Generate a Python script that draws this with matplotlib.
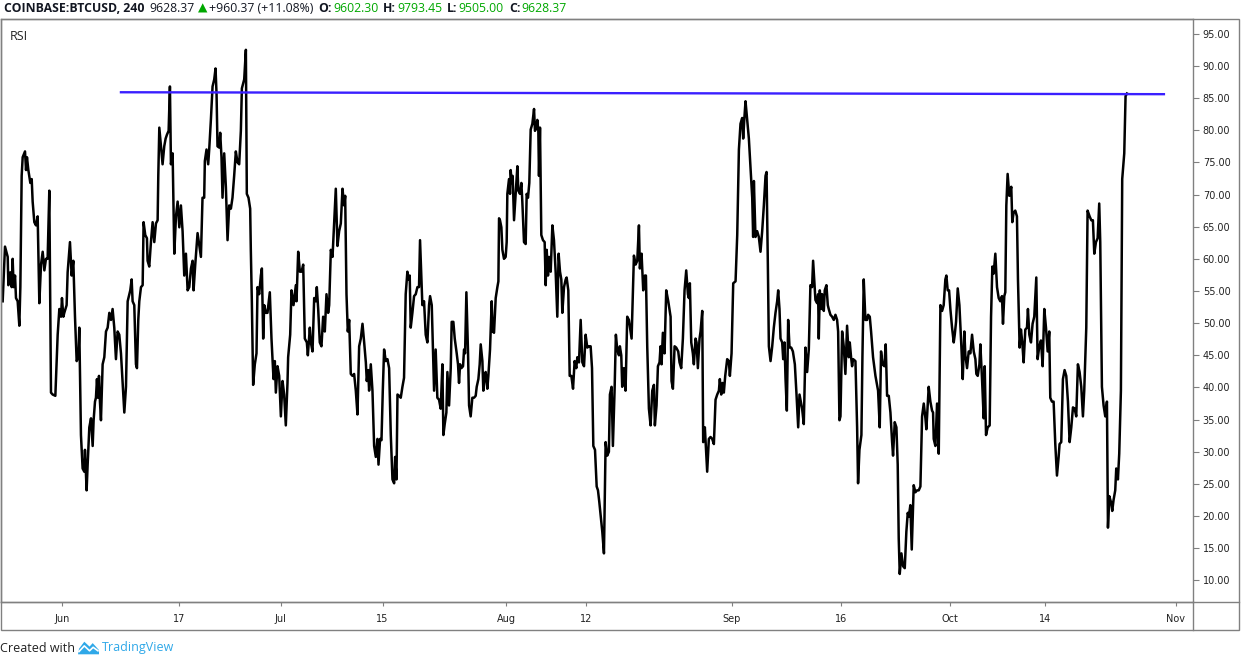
import numpy as np
import matplotlib
matplotlib.use('Agg')
import matplotlib.pyplot as plt
from matplotlib.patches import Rectangle, Polygon
from matplotlib.lines import Line2D

# RSI (4h) readings, x = days since 1 Jun 2019
day = [
    # late May - mid June
    -8.22, -7.90, -7.53, -7.44, -7.17, -6.98, -6.85, -6.71, -6.52, -6.39,
    -6.16, -5.93, -5.79, -5.61, -5.47, -5.15, -5.01, -4.88, -4.69, -4.42,
    -4.23, -4.10, -3.87, -3.64, -3.41, -3.18, -2.95, -2.72, -2.49, -2.27,
    -2.04, -1.81, -1.58, -1.35, -0.98, -0.66, -0.43, -0.20, -0.07, 0.12,
    0.25, 0.57, 0.71, 1.03, 1.26, 1.49, 1.72, 1.95, 2.19, 2.31,
    2.54, 2.77, 3.00, 3.09, 3.32, 3.46, 3.69, 3.92, 4.15, 4.28,
    4.47, 4.60, 4.74, 4.88, 5.02, 5.15, 5.29, 5.52, 5.75, 5.98,
    6.21, 6.44, 6.67, 6.89, 7.12, 7.35, 7.58, 7.81, 8.04, 8.27,
    8.50, 8.73, 8.96, 9.32, 9.51, 9.64, 9.87, 10.10, 10.24, 10.42,
    10.56, 10.79, 11.02, 11.15, 11.38, 11.61, 11.70, 11.93, 12.16, 12.39,
    12.62, 12.85, 13.08, 13.17, 13.31, 13.54, 13.76, 13.99, 14.18, 14.36,
    14.59, 14.77, 14.91, 15.14, 15.37, 15.60, 15.83, 16.06, 16.28, 16.51,
    16.74, 16.97, 17.20, 17.43, 17.66, 17.89, 18.02, 18.25, 18.57, 19.03,
    # late June - mid July
    19.25, 19.48, 19.57, 19.80, 20.03, 20.17, 20.40, 20.63, 20.86, 21.04,
    21.18, 21.31, 21.54, 21.68, 21.86, 22.00, 22.23, 22.46, 22.60, 22.69,
    22.92, 23.15, 23.37, 23.60, 23.83, 24.06, 24.29, 24.52, 24.66, 24.98,
    25.21, 25.34, 25.57, 25.80, 25.89, 26.03, 26.21, 26.44, 26.67, 26.81,
    27.04, 27.27, 27.41, 27.59, 27.73, 27.96, 28.18, 28.50, 28.73, 29.01,
    29.19, 29.33, 29.56, 29.79, 30.02, 30.25, 30.47, 30.70, 30.93, 31.02,
    31.30, 31.48, 31.76, 32.08, 32.17, 32.40, 32.63, 32.86, 33.09, 33.31,
    33.59, 33.73, 34.00, 34.14, 34.37, 34.60, 34.83, 34.96, 35.15, 35.37,
    35.60, 35.83, 36.06, 36.29, 36.52, 36.66, 36.89, 37.12, 37.34, 37.57,
    37.80, 38.03, 38.26, 38.49, 38.72, 38.86, 39.04, 39.22, 39.41, 39.63,
    39.86, 40.09, 40.32, 40.55, 40.78, 41.01, 41.24, 41.47, 41.70, 41.83,
    42.02, 42.15, 42.38, 42.61, 42.84, 43.07, 43.30, 43.44, 43.66, 43.85,
    44.03, 44.21, 44.44, 44.67, 44.90, 45.13, 45.36, 45.59, 45.73, 45.91,
    46.05, 46.28,
    # mid July - mid August
    46.50, 46.73, 46.95, 47.18, 47.41, 47.55, 47.73, 47.87, 48.10, 48.33,
    48.56, 48.79, 49.01, 49.15, 49.34, 49.47, 49.70, 49.93, 50.16, 50.39,
    50.53, 50.76, 51.08, 51.30, 51.53, 51.76, 51.99, 52.22, 52.36, 52.54,
    52.77, 52.91, 53.14, 53.37, 53.50, 53.73, 53.92, 54.19, 54.37, 54.51,
    54.65, 54.83, 55.06, 55.20, 55.34, 55.52, 55.75, 55.89, 56.11, 56.34,
    56.57, 56.80, 56.94, 57.17, 57.35, 57.49, 57.72, 57.85, 58.04, 58.17,
    58.40, 58.54, 58.77, 59.00, 59.14, 59.32, 59.55, 59.78, 59.92, 60.01,
    60.14, 60.33, 60.47, 60.69, 60.92, 61.06, 61.15, 61.38, 61.52, 61.61,
    61.75, 61.88, 62.07, 62.30, 62.53, 62.66, 62.89, 63.08, 63.21, 63.44,
    63.67, 63.81, 63.99, 64.17, 64.36, 64.59, 64.82, 64.95, 65.14, 65.27,
    65.41, 65.50, 65.64, 65.82, 66.05, 66.28, 66.42, 66.56, 66.74, 66.88,
    67.11, 67.34, 67.56, 67.79, 68.02, 68.20, 68.39, 68.57, 68.71, 68.94,
    69.17, 69.30, 69.53, 69.72, 69.95, 70.18, 70.40, 70.63, 70.77, 71.00,
    71.23, 71.46, 71.69, 71.91, 72.14, 72.37, 72.60, 72.79, 72.97, 73.20,
    73.43, 73.61, 73.79,
    # mid August - early September
    74.20, 74.43, 74.66, 74.88, 75.11, 75.25, 75.48, 75.66, 75.89, 76.07,
    76.26, 76.49, 76.62, 76.81, 76.94, 77.17, 77.40, 77.63, 77.86, 78.23,
    78.55, 78.78, 79.01, 79.24, 79.37, 79.60, 79.83, 80.06, 80.20, 80.38,
    80.61, 80.84, 81.07, 81.30, 81.43, 81.66, 81.85, 82.07, 82.21, 82.35,
    82.53, 82.76, 82.99, 83.27, 83.59, 83.72, 83.91, 84.14, 84.36, 84.64,
    84.82, 85.05, 85.28, 85.51, 85.74, 85.97, 86.10, 86.24, 86.43, 86.65,
    86.79, 87.02, 87.16, 87.34, 87.57, 87.71, 87.94, 88.07, 88.30, 88.62,
    88.85, 89.08, 89.31, 89.54, 89.77, 90.00, 90.23, 90.36, 90.55, 90.73,
    90.91, 91.10, 91.37, 91.60, 91.74, 91.97, 92.20, 92.52, 92.75, 92.98,
    93.20, 93.43, 93.57, 93.75, 93.89, 94.12, 94.35, 94.58, 94.81, 94.94,
    95.04, 95.26, 95.49, 95.72, 95.95, 96.18, 96.41, 96.64, 96.78, 96.96,
    97.10, 97.33, 97.56, 97.78, 98.01, 98.24, 98.38, 98.56, 98.70, 98.93,
    99.07, 99.25, 99.39, 99.57, 99.75, 99.94, 100.17, 100.40, 100.67, 100.90,
    101.13, 101.31,
    # September - early October
    101.67, 101.90, 102.13, 102.36, 102.59, 102.81, 103.04, 103.18, 103.36, 103.50,
    103.73, 103.87, 103.96, 104.10, 104.28, 104.42, 104.65, 104.78, 105.01, 105.20,
    105.33, 105.56, 105.79, 106.02, 106.25, 106.48, 106.62, 106.80, 106.94, 107.17,
    107.39, 107.62, 107.85, 108.08, 108.22, 108.40, 108.54, 108.68, 109.00, 109.23,
    109.36, 109.55, 109.82, 109.96, 110.14, 110.37, 110.60, 110.74, 110.97, 111.15,
    111.42, 111.75, 112.11, 112.34, 112.52, 112.71, 112.98, 113.16, 113.35, 113.58,
    113.81, 114.04, 114.17, 114.40, 114.63, 114.81, 114.95, 115.09, 115.32, 115.55,
    115.78, 116.00, 116.19, 116.33, 116.55, 116.74, 116.87, 117.01, 117.24, 117.47,
    117.70, 117.93, 118.16, 118.39, 118.62, 118.75, 119.07, 119.30, 119.53, 119.67,
    119.76, 119.99, 120.22, 120.45, 120.68, 120.91, 121.13, 121.36, 121.50, 121.68,
    121.87, 122.05, 122.28, 122.51, 122.65, 122.83, 123.06, 123.29, 123.56, 123.75,
    123.97, 124.11, 124.34, 124.57, 124.80, 125.03, 125.26, 125.49, 125.62, 125.81,
    126.04, 126.17, 126.40, 126.63, 126.77, 126.95, 127.18, 127.45, 127.64, 127.82,
    128.00, 128.23, 128.46, 128.69,
    # October
    128.91, 129.14, 129.28, 129.46, 129.60, 129.74, 129.92, 130.15, 130.29, 130.42,
    130.56, 130.74, 130.97, 131.20, 131.34, 131.57, 131.75, 131.93, 132.12, 132.35,
    132.58, 132.71, 132.90, 133.13, 133.35, 133.58, 133.86, 134.04, 134.27, 134.50,
    134.73, 134.96, 135.19, 135.42, 135.64, 135.78, 136.01, 136.24, 136.47, 136.70,
    136.93, 137.06, 137.29, 137.52, 137.75, 137.98, 138.21, 138.44, 138.67, 138.90,
    139.13, 139.35, 139.58, 139.81, 140.04, 140.27, 140.45, 140.73, 140.91, 141.19,
    141.42, 141.64, 141.83, 142.06, 142.29, 142.51, 142.65, 142.88, 143.11, 143.34,
    143.57, 143.71, 143.89, 144.12, 144.30, 144.48, 144.71, 144.85, 145.08, 145.26,
    145.49, 145.67, 145.95, 146.13, 146.32,
]

rsi = [
    53.4, 61.9, 60.3, 55.9, 57.9, 55.6, 60.0, 55.6, 57.4, 53.9,
    53.4, 49.6, 55.6, 72.9, 75.8, 76.7, 73.8, 75.8, 73.8, 71.8,
    72.4, 68.9, 65.7, 65.2, 66.6, 53.1, 59.1, 61.1, 58.2, 60.0,
    60.0, 70.6, 39.2, 38.9, 38.7, 48.2, 52.2, 51.0, 53.9, 51.0,
    51.6, 52.8, 57.9, 62.6, 57.4, 59.7, 51.0, 44.1, 44.7, 49.3,
    32.6, 27.4, 26.9, 30.3, 24.0, 28.0, 33.8, 35.2, 30.9, 34.9,
    37.8, 38.4, 41.3, 38.4, 41.8, 37.8, 34.9, 43.6, 44.7, 48.7,
    49.3, 51.6, 50.5, 52.2, 49.3, 44.4, 48.7, 48.2, 45.3, 40.7,
    36.1, 40.1, 53.4, 55.1, 56.8, 53.4, 52.8, 43.6, 43.0, 50.5,
    53.4, 55.6, 55.9, 65.7, 63.7, 63.2, 59.7, 58.8, 62.6, 65.7,
    62.6, 65.5, 66.0, 72.9, 80.4, 77.5, 74.7, 77.5, 78.7, 79.3,
    79.9, 86.8, 74.7, 76.4, 60.8, 66.6, 68.9, 64.9, 68.3, 64.3,
    57.4, 60.8, 55.1, 55.6, 58.5, 59.7, 55.1, 59.1, 64.0, 60.3,

    69.5, 69.5, 75.2, 77.0, 74.7, 77.0, 81.6, 86.8, 87.9, 89.6,
    85.6, 77.5, 77.3, 79.6, 75.8, 69.5, 76.4, 71.2, 66.0, 62.9,
    68.3, 67.8, 69.5, 72.9, 76.7, 75.0, 74.7, 79.9, 86.5, 87.9,
    92.5, 70.1, 69.5, 67.8, 61.4, 53.4, 40.4, 43.6, 45.3, 55.6,
    54.5, 57.4, 58.5, 47.6, 52.8, 51.6, 51.6, 54.8, 47.6, 41.3,
    44.1, 39.2, 43.3, 41.8, 35.5, 41.0, 38.9, 34.1, 40.7, 44.7,
    48.2, 55.1, 52.8, 55.9, 53.4, 61.1, 58.0, 58.0, 59.1, 47.6,
    47.0, 45.0, 49.3, 47.0, 45.6, 53.9, 53.4, 55.6, 52.2, 47.0,
    46.4, 51.0, 48.7, 54.5, 51.6, 52.8, 61.4, 60.3, 65.5, 70.9,
    62.0, 64.3, 65.5, 70.9, 68.3, 69.8, 54.5, 48.7, 50.5, 42.1,
    41.8, 42.1, 39.5, 35.8, 46.4, 47.6, 49.9, 47.0, 43.9, 41.0,
    42.7, 39.5, 43.6, 39.5, 30.9, 29.2, 32.0, 28.0, 32.0, 31.8,
    39.5, 45.9, 44.1, 44.4, 43.0, 32.6, 25.7, 25.1, 29.2, 25.7,
    38.9, 38.7,

    38.4, 40.1, 41.5, 54.5, 58.0, 56.8, 57.4, 49.3, 51.6, 54.2,
    54.5, 55.6, 55.6, 62.9, 56.8, 52.8, 53.4, 48.2, 47.0, 52.8,
    54.2, 52.8, 39.5, 45.9, 38.4, 38.1, 36.7, 43.6, 32.6, 34.3,
    36.1, 42.4, 37.2, 43.0, 50.2, 50.2, 47.6, 45.3, 43.6, 40.7,
    43.6, 43.0, 43.3, 45.9, 45.3, 54.8, 45.3, 37.2, 35.5, 38.4,
    38.4, 38.7, 40.1, 41.3, 43.6, 46.7, 44.1, 39.5, 41.8, 42.4,
    39.8, 41.8, 45.9, 53.4, 48.7, 48.5, 53.9, 55.6, 56.5, 66.3,
    66.0, 64.9, 61.4, 60.0, 60.3, 62.6, 70.1, 72.4, 70.1, 73.8,
    71.8, 72.9, 66.0, 70.1, 74.4, 70.6, 70.1, 71.8, 68.9, 62.6,
    62.3, 70.1, 69.5, 71.8, 80.1, 81.0, 83.3, 79.9, 80.4, 81.6,
    79.9, 72.9, 80.4, 63.7, 62.9, 62.6, 55.9, 61.4, 57.4, 60.3,
    58.0, 65.2, 62.9, 58.0, 51.0, 60.8, 58.0, 56.8, 51.6, 55.6,
    56.8, 57.1, 55.1, 41.8, 41.8, 39.8, 44.1, 43.0, 44.7, 43.9,
    50.5, 43.9, 43.3, 48.2, 46.2, 46.4, 46.4, 43.0, 30.9, 30.3,
    24.6, 24.0, 22.2,

    17.6, 14.2, 31.5, 29.4, 30.0, 38.9, 40.1, 30.9, 39.5, 48.2,
    45.9, 45.0, 46.4, 45.0, 40.1, 43.0, 39.5, 51.0, 50.5, 47.6,
    60.5, 59.1, 59.7, 65.2, 58.5, 60.8, 55.1, 57.4, 57.4, 46.4,
    36.7, 34.1, 39.5, 40.4, 34.1, 37.2, 43.3, 43.9, 46.4, 43.6,
    48.5, 45.3, 55.1, 53.4, 51.0, 41.0, 39.8, 46.4, 46.2, 45.6,
    43.9, 43.0, 47.6, 55.1, 58.2, 54.5, 53.9, 56.2, 47.0, 45.3,
    43.6, 47.6, 47.0, 43.0, 47.6, 48.7, 51.9, 31.5, 33.8, 26.9,
    32.0, 32.3, 32.0, 31.2, 38.1, 38.9, 39.5, 41.3, 38.9, 40.7,
    39.2, 41.8, 44.4, 44.1, 41.8, 45.3, 56.2, 56.5, 63.7, 77.0,
    81.0, 81.9, 78.7, 82.2, 84.5, 81.6, 78.7, 74.1, 69.5, 63.4,
    72.1, 63.4, 64.3, 63.4, 61.1, 64.3, 68.3, 72.9, 73.5, 59.1,
    46.4, 44.1, 46.4, 49.3, 51.6, 53.4, 55.1, 52.2, 47.6, 47.0,
    44.4, 47.0, 41.3, 36.4, 50.5, 46.2, 46.2, 45.6, 43.6, 38.9,
    33.8, 38.9,

    36.7, 34.3, 46.2, 42.4, 45.9, 55.9, 55.6, 59.7, 56.2, 53.6,
    53.1, 54.5, 47.6, 55.1, 52.2, 54.5, 51.9, 55.1, 55.9, 52.8,
    52.2, 51.3, 51.0, 50.5, 51.3, 50.5, 48.7, 34.9, 35.5, 48.7,
    46.4, 42.1, 49.6, 44.7, 47.0, 44.7, 43.3, 44.4, 44.1, 33.8,
    25.1, 30.3, 32.6, 44.7, 56.8, 50.5, 50.5, 51.3, 51.0, 48.7,
    44.7, 41.8, 39.5, 33.8, 45.6, 43.6, 43.3, 46.7, 38.7, 38.7,
    36.1, 31.5, 29.4, 34.6, 33.8, 28.0, 16.5, 11.0, 14.2, 12.2,
    11.9, 17.6, 20.5, 19.9, 21.7, 14.8, 19.7, 24.8, 23.7, 24.0,
    24.0, 24.6, 35.5, 37.5, 35.2, 33.5, 40.1, 37.8, 36.4, 36.1,
    32.0, 30.9, 37.5, 29.7, 52.8, 51.9, 52.8, 56.8, 57.4, 55.1,
    55.1, 52.2, 49.3, 47.0, 48.2, 50.2, 55.4, 52.8, 46.4, 41.3,
    48.7, 45.0, 43.0, 45.6, 45.3, 48.2, 45.6, 44.4, 42.1, 41.8,
    43.6, 46.7, 41.3, 35.2, 43.3, 32.6, 33.8, 34.1, 51.0, 58.8,
    57.7, 60.8, 55.6, 53.9,

    53.4, 54.2, 49.9, 54.2, 54.8, 68.3, 73.2, 69.8, 70.6, 71.2,
    65.7, 67.2, 67.5, 66.6, 56.8, 46.2, 49.0, 47.0, 43.9, 49.0,
    49.3, 52.2, 48.2, 47.0, 49.9, 51.0, 57.1, 44.4, 46.4, 47.3,
    43.3, 52.2, 49.3, 45.6, 48.7, 38.4, 37.8, 37.8, 31.2, 26.3,
    29.2, 31.2, 31.5, 41.3, 42.7, 41.8, 37.8, 31.5, 33.8, 36.9,
    36.7, 35.5, 43.6, 42.4, 40.1, 35.5, 39.5, 49.3, 67.5, 66.6,
    66.0, 66.0, 60.8, 62.6, 63.2, 68.6, 62.6, 40.1, 37.2, 35.5,
    37.8, 18.2, 23.1, 22.2, 20.8, 22.5, 24.0, 27.4, 25.7, 29.7,
    39.5, 72.4, 76.4, 85.3, 85.7,
]

# resistance line drawn on the chart
trend_day = [8.04, 151.4]
trend_rsi = [85.9, 85.6]

tick_day = [0, 16, 30, 44, 61, 72, 92, 107, 122, 135, 153]
tick_lbl = ['Jun', '17', 'Jul', '15', 'Aug', '12', 'Sep', '16', 'Oct', '14', 'Nov']
rsi_ticks = [10, 15, 20, 25, 30, 35, 40, 45, 50, 55, 60, 65, 70, 75, 80, 85, 90, 95]

header = [
    ('COINBASE:BTCUSD, 240', '#131722', 'bold', 5),
    ('9628.37', '#131722', 'normal', 3),
    ('\u25b2', '#00a800', 'normal', 2),
    ('+960.37 (+11.08%)', '#131722', 'normal', 5),
    ('O:', '#131722', 'bold', 1),
    ('9602.30', '#00a800', 'normal', 5),
    ('H:', '#131722', 'bold', 1),
    ('9793.45', '#00a800', 'normal', 5),
    ('L:', '#131722', 'bold', 1),
    ('9505.00', '#00a800', 'normal', 5),
    ('C:', '#131722', 'bold', 1),
    ('9628.37', '#00a800', 'normal', 0),
]

W, H = 1245, 665
GRAY = '#808080'
TXT = '#222222'
FAM = ['Open Sans', 'DejaVu Sans']

fig = plt.figure(figsize=(W / 100, H / 100), dpi=100)
fig.patch.set_facecolor('white')

def fx(px):
    return px / W

def fy(py):
    return 1 - py / H

ax = fig.add_axes([fx(1), fy(602), (1193 - 1) / W, (602 - 19) / H])
ax.plot(day, rsi, color='black', lw=1.8)
ax.plot(trend_day, trend_rsi, color='#3a1fff', lw=1.7)

ax.set_xlim(-8.45, 155.4)
ax.set_ylim(6.64, 97.29)

ax.set_xticks(tick_day)
ax.set_xticklabels(tick_lbl)
ax.set_yticks(rsi_ticks)
ax.set_yticklabels(['%.2f' % v for v in rsi_ticks])

ax.yaxis.tick_right()
ax.tick_params(axis='y', direction='out', length=4, width=0.8, color=GRAY,
               labelcolor=TXT, labelsize=7, pad=3)
ax.tick_params(axis='x', direction='out', length=3, width=0.8, color=GRAY,
               labelcolor=TXT, labelsize=7, pad=6)
for s in ax.spines.values():
    s.set_color(GRAY)
    s.set_linewidth(1)

# outer frame of the chart + price / time scale separators
fig.add_artist(Rectangle((fx(1), fy(630)), (1239 - 1) / W, (630 - 19) / H,
                         transform=fig.transFigure, fill=False, ec=GRAY, lw=1))
fig.add_artist(Line2D([fx(1), fx(1239)], [fy(602), fy(602)], color=GRAY, lw=1))
fig.add_artist(Line2D([fx(1193), fx(1193)], [fy(602), fy(630)], color=GRAY, lw=1))

fig.text(fx(10), fy(37), 'RSI', fontsize=9, color=TXT, family=FAM, va='center')

# header line, pieces placed one after another
renderer = fig.canvas.get_renderer()
x = 4
for txt, col, wt, gap in header:
    t = fig.text(fx(x), fy(8), txt, fontsize=8.8, color=col, fontweight=wt,
                 family=FAM, va='center', ha='left')
    x = t.get_window_extent(renderer).x1 + gap

# footer
t = fig.text(fx(0), fy(648), 'Created with', fontsize=9, color=TXT, family=FAM, va='center')
x0 = t.get_window_extent(renderer).x1 + 3
logo = fig.add_axes([fx(x0), fy(655), 21 / W, 14 / H])
logo.axis('off')
logo.set_xlim(0, 1)
logo.set_ylim(0, 1)
logo.add_patch(Polygon([(0, 0.05), (0.05, 0.45), (0.3, 0.95), (0.55, 0.6), (0.7, 0.85),
                        (1, 0.35), (1, 0.05)], closed=True, fc='#2fa8e8', ec='none'))
logo.plot([0.05, 0.3, 0.55, 0.72, 0.95], [0.25, 0.65, 0.3, 0.55, 0.3], color='white', lw=1.2)
fig.text(fx(x0 + 24), fy(648), 'TradingView', fontsize=9, color='#2fa8e8', family=FAM, va='center')

fig.savefig('out.png', dpi=100, facecolor='white')
